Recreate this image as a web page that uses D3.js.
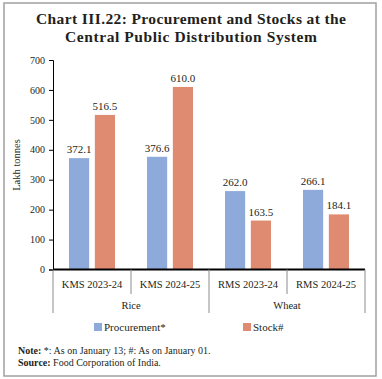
<!DOCTYPE html>
<html><head><meta charset="utf-8">
<script src="https://cdn.jsdelivr.net/npm/d3@7"></script>
<style>body{margin:0;background:#fff}svg{display:block}text{font-family:"Liberation Serif","DejaVu Serif",serif}</style>
</head><body>
<script>
const categories = ["KMS 2023-24","KMS 2024-25","RMS 2023-24","RMS 2024-25"];
const groups = ["Rice","Wheat"];
const procurement = [372.1, 376.6, 262.0, 266.1];
const stock = [516.5, 610.0, 163.5, 184.1];
const seriesNames = ["Procurement*","Stock#"];
const yTicks = [0,100,200,300,400,500,600,700];

const W=382,H=379;
const colors=["#8eaadb","#df8b72"];
const svg=d3.select("body").append("svg").attr("width",W).attr("height",H);
svg.append("rect").attr("x",4).attr("y",3).attr("width",372).attr("height",373)
  .attr("fill","none").attr("stroke","#a0a0a0").attr("stroke-width",1.5);

// title
const titles=[["Chart III.22: Procurement and Stocks at the",24,310],["Central Public Distribution System",42,252]];
titles.forEach(([t,y,w])=>{
  svg.append("text").attr("x",191).attr("y",y).attr("text-anchor","middle")
    .attr("font-weight","bold").attr("font-size",15.5).attr("fill","#231f20")
    .attr("textLength",w).attr("lengthAdjust","spacing").text(t);
});

const x0=53,x1=365;
const x=d3.scaleBand().domain(categories).range([x0,x1]);
const y=d3.scaleLinear().domain([0,700]).range([269.5,60]);
const inner=d3.scaleBand().domain(seriesNames).range([-23,23]).paddingInner(0.22);

// y axis
const ya=svg.append("g").attr("transform",`translate(${x0},0)`)
  .call(d3.axisLeft(y).tickValues(yTicks).tickSize(4).tickPadding(4));
ya.select(".domain").attr("stroke","#000");
ya.selectAll(".tick line").attr("stroke","#000");
ya.selectAll("text").attr("font-family","Liberation Serif").attr("font-size",10).attr("fill","#231f20");

svg.append("text").attr("transform","translate(20,165) rotate(-90)").attr("text-anchor","middle")
  .attr("font-size",10.5).attr("fill","#231f20").text("Lakh tonnes");

// bars
const series=[procurement,stock];
series.forEach((vals,si)=>{
  const g=svg.append("g");
  categories.forEach((c,i)=>{
    const cx=x(c)+x.bandwidth()/2;
    const bx=cx+inner(seriesNames[si]);
    g.append("rect").attr("x",bx).attr("y",y(vals[i])).attr("width",inner.bandwidth())
      .attr("height",y(0)-y(vals[i])).attr("fill",colors[si]);
    g.append("text").attr("x",bx+inner.bandwidth()/2).attr("y",y(vals[i])-5)
      .attr("text-anchor","middle").attr("font-size",11).attr("fill","#231f20").text(vals[i].toFixed(1));
  });
});

// x axis baseline
svg.append("line").attr("x1",x0).attr("x2",x1).attr("y1",y(0)).attr("y2",y(0))
  .attr("stroke","#000").attr("stroke-width",2);
// dividers
const divs=[x0,x(categories[1]),x(categories[2]),x(categories[3]),x1];
divs.forEach((d,i)=>{
  const long=(i%2===0);
  svg.append("line").attr("x1",d).attr("x2",d).attr("y1",y(0)).attr("y2",long?313:294)
    .attr("stroke","#8c8c8c").attr("stroke-width",1);
});
categories.forEach(c=>{
  svg.append("text").attr("x",x(c)+x.bandwidth()/2).attr("y",288).attr("text-anchor","middle")
    .attr("font-size",10.5).attr("fill","#231f20").text(c);
});
groups.forEach((g,i)=>{
  const cx=(x(categories[2*i])+x(categories[2*i+1])+x.bandwidth())/2;
  svg.append("text").attr("x",cx).attr("y",309).attr("text-anchor","middle")
    .attr("font-size",10.5).attr("fill","#231f20").text(g);
});

// legend
const legX=[94,243];
seriesNames.forEach((s,i)=>{
  svg.append("rect").attr("x",legX[i]).attr("y",323).attr("width",8).attr("height",8).attr("fill",colors[i]);
  svg.append("text").attr("x",legX[i]+10).attr("y",331).attr("font-size",11).attr("fill","#231f20").text(s);
});

// notes
const n1=svg.append("text").attr("x",18).attr("y",354).attr("font-size",10).attr("fill","#231f20");
n1.append("tspan").attr("font-weight","bold").text("Note:");
n1.append("tspan").text(" *: As on January 13; #: As on January 01.");
const n2=svg.append("text").attr("x",18).attr("y",366).attr("font-size",10).attr("fill","#231f20");
n2.append("tspan").attr("font-weight","bold").text("Source:");
n2.append("tspan").text(" Food Corporation of India.");
</script>
</body></html>
